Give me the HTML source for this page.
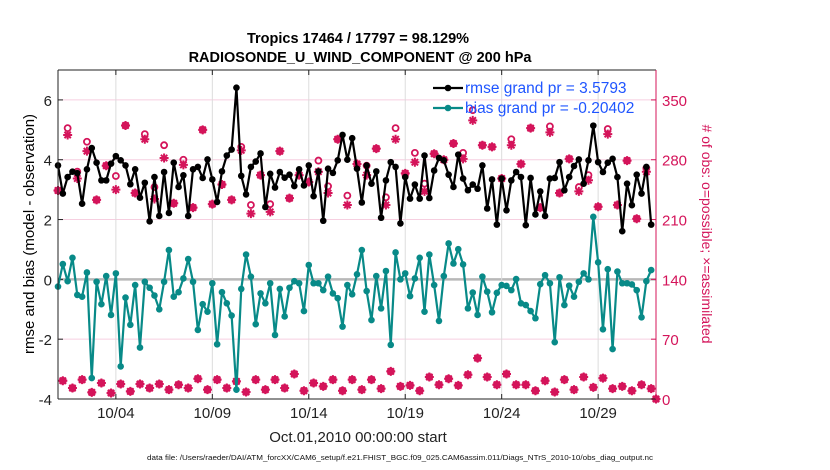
<!DOCTYPE html>
<html><head><meta charset="utf-8"><style>
html,body{margin:0;padding:0;background:#fff;}
svg{display:block;font-family:"Liberation Sans",sans-serif;}
</style></head><body>
<svg id="chart" width="830" height="470" viewBox="0 0 830 470" xmlns="http://www.w3.org/2000/svg">
<rect x="0" y="0" width="830" height="470" fill="#fff"/>
<text x="358" y="43" text-anchor="middle" font-size="14.5" font-weight="bold">Tropics 17464 / 17797 = 98.129%</text>
<text x="360" y="62" text-anchor="middle" font-size="14.5" font-weight="bold">RADIOSONDE_U_WIND_COMPONENT @ 200 hPa</text>
<g id="plot"></g>
<text transform="translate(34,234) rotate(-90)" text-anchor="middle" font-size="15">rmse and bias (model - observation)</text>
<text transform="translate(702,234) rotate(90)" text-anchor="middle" font-size="14" fill="#d4145a"># of obs: o=possible; ×=assimilated</text>
<text x="358" y="442" text-anchor="middle" font-size="15" fill="#222">Oct.01,2010 00:00:00 start</text>
<text x="400" y="460" text-anchor="middle" font-size="7.5" fill="#111" textLength="506" lengthAdjust="spacingAndGlyphs">data file: /Users/raeder/DAI/ATM_forcXX/CAM6_setup/f.e21.FHIST_BGC.f09_025.CAM6assim.011/Diags_NTrS_2010-10/obs_diag_output.nc</text>
</svg>
<script>
const rmse=[3.81,2.87,3.42,3.6,3.55,2.53,3.68,4.39,3.9,3.31,3.31,3.87,4.12,3.98,3.81,3.18,3.68,2.73,3.23,1.94,3.42,2.12,3.59,2.22,3.9,3.09,3.48,2.12,3.68,3.76,
3.39,4.01,3.34,2.59,3.61,4.14,4.34,6.41,3.46,2.84,3.76,3.94,4.21,2.42,3.53,3.07,3.59,3.4,3.5,3.12,3.68,3.14,3.81,2.78,3.61,1.96,3.7,3.56,3.98,4.83,4.0,
4.72,3.7,2.57,3.81,3.2,3.61,2.06,3.31,3.92,3.76,1.87,3.42,2.7,3.17,2.7,4.14,2.72,3.64,4.06,3.98,3.5,3.09,4.17,3.37,2.98,3.17,3.03,3.81,2.37,3.34,
1.83,3.37,2.31,3.31,3.59,3.42,1.81,3.39,2.17,2.94,2.12,3.37,3.39,3.92,2.98,3.42,3.79,4.01,3.2,3.98,5.14,3.92,3.59,3.9,4.03,3.42,1.61,3.2,2.48,3.5,2.87,3.76,1.83];
const bias=[-0.24,0.51,-0.06,0.72,-0.52,-0.58,0.23,-3.3,-0.08,-0.83,0.11,-1.19,0.2,-2.91,-0.61,-1.52,-0.19,-2.28,-0.08,-0.28,-0.54,-1.0,-0.08,0.98,-0.58,-0.43,0.03,0.68,-0.08,-1.69,
-0.83,-1.08,-0.13,-2.17,-0.43,-0.8,-1.21,-3.69,-0.32,0.83,0.09,-1.5,-0.47,-0.8,-0.13,-1.86,-0.32,-1.24,-0.28,-0.06,-0.13,-1.06,0.48,-0.13,-0.13,-0.36,0.09,-0.47,-0.63,-1.58,-0.19,
-0.5,0.17,0.98,-0.39,-1.36,0.11,-0.97,0.28,-2.19,0.9,0,0.2,-0.56,0.03,0.72,-1.08,0.83,-0.19,-1.39,0.11,1.2,0.53,1.01,0.5,-0.97,-0.44,-1.19,0.09,-0.41,-1.1,
-0.45,-0.19,-0.22,-0.36,0.01,-0.8,-0.86,-1.06,-1.3,-0.16,0.14,-0.13,-2.1,0.07,-0.86,-0.21,-0.58,-0.08,0.2,0,2.09,0.57,-1.67,0.34,-2.33,0.26,-0.13,-0.13,-0.17,-0.36,-1.27,-0.06,0.31];
const possible=[244,21.4,317,12.8,266,22.6,301,7.8,233,18.7,273,7.0,261,17.5,320,8.9,241,17.5,310,12.8,248,17.5,297,10.9,229,16.7,280,12.8,224,23.7,
315,10.9,228,22.6,251,12.8,233,20.6,295,8.2,227,22.6,262,10.9,228,22.6,290,12.8,235,29.2,262,9.7,254,18.7,279,14.8,249,22.6,304,9.7,238,
22.6,275,10.9,273,22.6,293,12.1,236,32.3,317,14.8,264,15.9,288,9.7,252,25.7,287,16.7,280,23.7,299,15.9,288,28.4,338,47.8,297,25.7,295,16.7,
258,29.2,304,16.7,275,16.7,317,9.7,224,21.4,319,8.2,241,22.6,281,10.9,248,25.7,262,13.6,225,24.5,316,12.1,227,14.8,279,9.7,211,16.7,270,12.1,0];
const assimilated=[244,21.4,309,12.8,258,22.6,290,7.8,233,18.7,273,7.0,245,17.5,320,8.9,241,17.5,304,12.8,234,17.5,282,10.9,229,16.7,274,12.8,224,23.7,
315,10.9,228,22.6,251,12.8,233,20.6,291,8.2,217,22.6,262,10.9,219,22.6,290,12.8,235,29.2,262,9.7,254,18.7,266,14.8,241,22.6,304,9.7,227,
22.6,275,10.9,262,22.6,293,12.1,227,32.3,304,14.8,264,15.9,277,9.7,243,25.7,287,16.7,280,23.7,299,15.9,281,28.4,326,47.8,297,25.7,295,16.7,
258,29.2,297,16.7,275,16.7,317,9.7,224,21.4,312,8.2,241,22.6,281,10.9,243,25.7,256,13.6,225,24.5,310,12.1,227,14.8,279,9.7,211,16.7,266,12.1,0];
const yTicks=[-4,-2,0,2,4,6];
const y2Ticks=[0,70,140,210,280,350];
const xTickDays=[3,8,13,18,23,28];
const xTickLabels=["10/04","10/09","10/14","10/19","10/24","10/29"];

const L=58,R=656,T=70,B=399;
const yMin=-4,yMax=7,y2Max=385,days=31,stepDays=0.25;
const xS=d=>L+(R-L)*d/days;
const yS=v=>B-(B-T)*(v-yMin)/(yMax-yMin);
const y2S=c=>B-(B-T)*c/y2Max;
const NS='http://www.w3.org/2000/svg';
const g=document.getElementById('plot');
function mk(tag,attrs,parent){const e=document.createElementNS(NS,tag);for(const k in attrs)e.setAttribute(k,attrs[k]);(parent||g).appendChild(e);return e;}
const MAG='#d4145a',TEAL='#088a88';

yTicks.forEach(v=>{const y=yS(v);
 const l=mk('line',{x1:L,x2:R,y1:y,y2:y,stroke:v===0?'#b8b8b8':'#f6cfe0','stroke-width':v===0?2.5:1});
 
 
 const t=mk('text',{x:L-6,y:y+6,'text-anchor':'end','font-size':15,fill:'#222'});
 t.textContent=v;
 
 
 mk('line',{x1:L,x2:L+5,y1:y,y2:y,stroke:'#222'});
});
y2Ticks.forEach(c=>{const y=y2S(c);
 const t=mk('text',{x:R+6,y:y+6,'font-size':15,fill:MAG});
 t.textContent=c;
 
 
 mk('line',{x1:R-5,x2:R,y1:y,y2:y,stroke:MAG});
});
xTickDays.forEach((d,i)=>{const x=xS(d);
 const l=mk('line',{x1:x,x2:x,y1:T,y2:B,stroke:'#dcdcdc','stroke-width':1});
 
 
 mk('line',{x1:x,x2:x,y1:B-5,y2:B,stroke:'#222'});
 mk('line',{x1:x,x2:x,y1:T,y2:T+5,stroke:'#222'});
 const t=mk('text',{x:x,y:418,'text-anchor':'middle','font-size':15,fill:'#222'});
 t.textContent=xTickLabels[i];
 
 
});

function star(x,y,r){const p=[];for(let k=0;k<4;k++){const a=k*Math.PI/4;p.push(`M${x-r*Math.cos(a)},${y-r*Math.sin(a)}L${x+r*Math.cos(a)},${y+r*Math.sin(a)}`);}return p.join('');}
const cg=mk('g',{});


possible.forEach((c,i)=>{const x=xS(i*stepDays),y=y2S(c);
 const e=mk('circle',{cx:x,cy:y,r:3,fill:'none',stroke:MAG,'stroke-width':1.8},cg);
 
 
});
assimilated.forEach((c,i)=>{const x=xS(i*stepDays),y=y2S(c);
 const e=mk('path',{d:star(x,y,4.5),stroke:MAG,'stroke-width':2,fill:'none'},cg);
 
 
});

function series(vals,color,name){
 const grp=mk('g',{});
 
 
 mk('polyline',{points:vals.map((v,i)=>xS(i*stepDays)+','+yS(v)).join(' '),fill:'none',stroke:color,'stroke-width':2.2,'stroke-linejoin':'round'},grp);
 vals.forEach((v,i)=>{const e=mk('circle',{cx:xS(i*stepDays),cy:yS(v),r:3.3,fill:color},grp);
  
  });
}
series(bias,TEAL,'bias-series');
series(rmse,'#000','rmse-series');

mk('line',{x1:L,x2:R,y1:T,y2:T,stroke:'#222','stroke-width':1});
mk('line',{x1:L,x2:R,y1:B,y2:B,stroke:'#222','stroke-width':1});
mk('line',{x1:L,x2:L,y1:T,y2:B,stroke:'#222','stroke-width':1});
mk('line',{x1:R,x2:R,y1:T,y2:B,stroke:MAG,'stroke-width':1});

const lg=mk('g',{});


[['rmse grand pr = 3.5793','#000',88],['bias grand pr = -0.20402',TEAL,108]].forEach(([txt,col,y])=>{
 mk('line',{x1:433,x2:463,y1:y,y2:y,stroke:col,'stroke-width':2.2},lg);
 mk('circle',{cx:448,cy:y,r:3.3,fill:col},lg);
 const t=mk('text',{x:465,y:y+5,'font-size':15.5,fill:'#1f55ff'},lg);
 t.textContent=txt;
 
 
});
</script>
</body></html>
